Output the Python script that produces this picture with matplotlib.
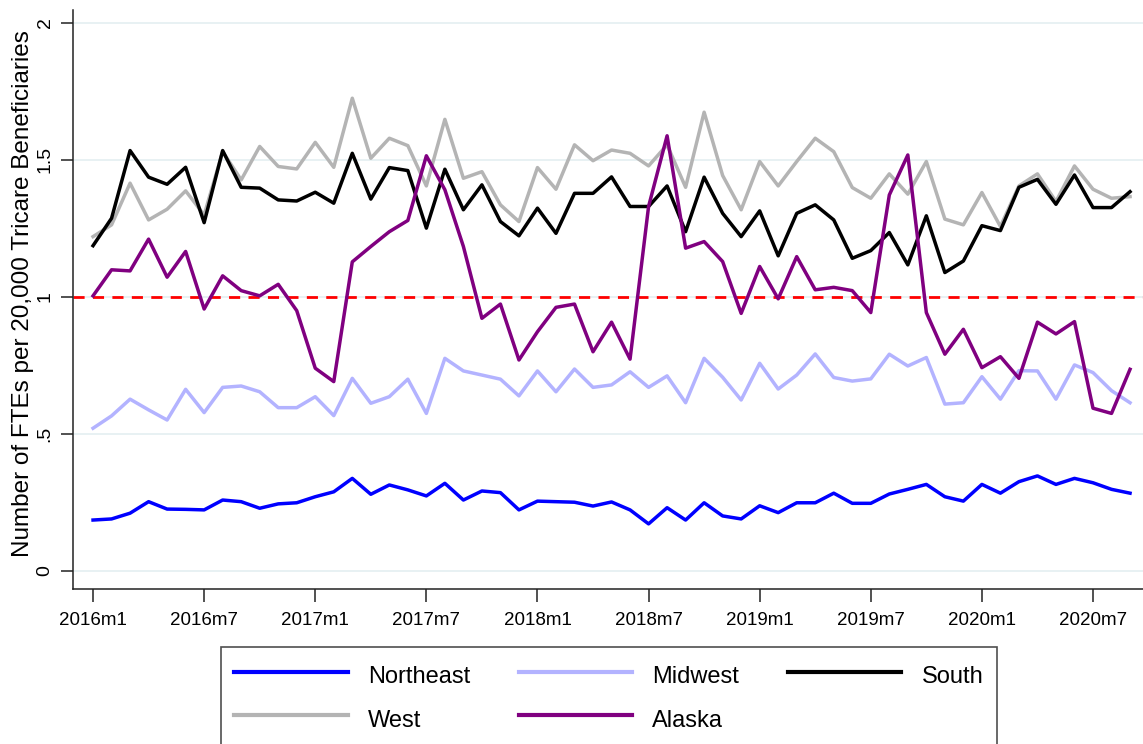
import matplotlib
matplotlib.use("Agg")
import matplotlib.pyplot as plt
import numpy as np

plt.rcParams['font.family'] = ['Liberation Sans', 'DejaVu Sans']

# Monthly series, 2016m1 .. 2020m9
months = [f"{2016 + k // 12}m{k % 12 + 1}" for k in range(57)]

northeast = [0.186, 0.190, 0.211, 0.253, 0.226, 0.225, 0.223, 0.259, 0.253, 0.229,
             0.245, 0.249, 0.271, 0.289, 0.338, 0.280, 0.314, 0.296, 0.274, 0.320,
             0.259, 0.292, 0.286, 0.223, 0.255, 0.253, 0.251, 0.237, 0.252, 0.223,
             0.172, 0.231, 0.186, 0.249, 0.201, 0.190, 0.238, 0.213, 0.249, 0.249,
             0.284, 0.247, 0.247, 0.281, 0.298, 0.316, 0.271, 0.255, 0.316, 0.284,
             0.326, 0.347, 0.316, 0.338, 0.322, 0.298, 0.284]

midwest = [0.521, 0.566, 0.627, 0.588, 0.551, 0.663, 0.578, 0.670, 0.675, 0.654,
           0.596, 0.596, 0.636, 0.567, 0.703, 0.612, 0.636, 0.700, 0.575, 0.776,
           0.730, 0.715, 0.700, 0.639, 0.730, 0.654, 0.737, 0.670, 0.679, 0.727,
           0.670, 0.712, 0.614, 0.776, 0.707, 0.624, 0.758, 0.664, 0.715, 0.792,
           0.706, 0.693, 0.701, 0.791, 0.748, 0.779, 0.609, 0.614, 0.709, 0.627,
           0.731, 0.730, 0.627, 0.752, 0.724, 0.658, 0.614]

south = [1.187, 1.287, 1.534, 1.437, 1.411, 1.473, 1.271, 1.534, 1.400, 1.397,
         1.354, 1.350, 1.382, 1.342, 1.524, 1.357, 1.472, 1.461, 1.251, 1.466,
         1.318, 1.409, 1.275, 1.223, 1.324, 1.232, 1.378, 1.378, 1.438, 1.330,
         1.330, 1.405, 1.238, 1.437, 1.305, 1.220, 1.314, 1.150, 1.305, 1.336,
         1.281, 1.141, 1.169, 1.235, 1.117, 1.296, 1.089, 1.131, 1.260, 1.242,
         1.400, 1.429, 1.338, 1.445, 1.326, 1.326, 1.384]

west = [1.220, 1.263, 1.415, 1.281, 1.320, 1.387, 1.299, 1.530, 1.427, 1.549,
        1.476, 1.467, 1.564, 1.473, 1.725, 1.506, 1.579, 1.552, 1.405, 1.648,
        1.433, 1.457, 1.336, 1.275, 1.472, 1.393, 1.555, 1.497, 1.536, 1.524,
        1.478, 1.555, 1.400, 1.674, 1.443, 1.318, 1.494, 1.405, 1.494, 1.579,
        1.530, 1.399, 1.360, 1.449, 1.375, 1.494, 1.284, 1.263, 1.381, 1.257,
        1.405, 1.449, 1.348, 1.478, 1.393, 1.360, 1.366]

alaska = [1.004, 1.099, 1.095, 1.211, 1.072, 1.166, 0.956, 1.077, 1.023, 1.004,
          1.046, 0.950, 0.740, 0.691, 1.128, 1.184, 1.238, 1.279, 1.515, 1.391,
          1.184, 0.922, 0.974, 0.770, 0.873, 0.962, 0.974, 0.800, 0.908, 0.773,
          1.330, 1.588, 1.178, 1.202, 1.129, 0.940, 1.111, 0.993, 1.147, 1.026,
          1.035, 1.023, 0.943, 1.372, 1.518, 0.943, 0.791, 0.882, 0.742, 0.782,
          0.703, 0.908, 0.865, 0.910, 0.594, 0.575, 0.736]

x_ticks = list(range(0, 57, 6))
x_ticklabels = [months[k] for k in x_ticks]
y_ticks = [0, 0.5, 1, 1.5, 2]
y_ticklabels = ["0", ".5", "1", "1.5", "2"]

fig = plt.figure(figsize=(11.43, 7.44), dpi=100)
ax = fig.add_axes([0.0639, 0.2083, 0.9361, 0.7783])

x = np.arange(len(months))

# horizontal grid
for yv in y_ticks:
    ax.axhline(yv, color="#e8f1f3", lw=1.4, zorder=0)
ax.axhline(1, color="#ff0000", lw=2.0, ls=(0, (4, 3)), zorder=1)

lw = 2.5
ax.plot(x, northeast, color="#0000ff", lw=lw, label="Northeast", zorder=3)
ax.plot(x, midwest, color="#b3b3ff", lw=lw, label="Midwest", zorder=3)
ax.plot(x, west, color="#b4b4b4", lw=lw, label="West", zorder=3)
ax.plot(x, south, color="#000000", lw=lw, label="South", zorder=4)
ax.plot(x, alaska, color="#800080", lw=lw, label="Alaska", zorder=5)

ax.set_xlim(-1.08, 56.7)
ax.set_ylim(-0.0657, 2.047)

ax.set_xticks(x_ticks)
ax.set_xticklabels(x_ticklabels, fontsize=13.5)
ax.set_yticks(y_ticks)
ax.set_yticklabels(y_ticklabels, fontsize=14, rotation=90, va="center")
ax.tick_params(axis="x", direction="out", length=9.4, width=1.1, color="#222222", pad=7)
ax.tick_params(axis="y", direction="out", length=9, width=1.1, color="#222222", pad=5)

for side in ("top", "right"):
    ax.spines[side].set_visible(False)
for side in ("left", "bottom"):
    ax.spines[side].set_linewidth(1.1)
    ax.spines[side].set_color("#222222")

ax.set_ylabel("Number of FTEs per 20,000 Tricare Beneficiaries", fontsize=17.5)
ax.yaxis.set_label_coords(-0.0365, 0.5095)

handles, labels = ax.get_legend_handles_labels()
# three columns filled column-wise: row 1 Northeast/Midwest/South, row 2 West/Alaska
order = ["Northeast", "West", "Midwest", "Alaska", "South"]
hmap = dict(zip(labels, handles))
leg = fig.legend([hmap[k] for k in order], order, loc="upper left",
                 bbox_to_anchor=(221 / 1143, 1 - 647 / 744), ncol=3,
                 fontsize=17, frameon=True, fancybox=False, edgecolor="#222222",
                 handlelength=4.8, handletextpad=0.85, columnspacing=2.07,
                 handleheight=1.6, borderpad=0.57, labelspacing=0.56,
                 borderaxespad=0)
leg.get_frame().set_linewidth(1.2)
for ln in leg.get_lines():
    ln.set_linewidth(3)

fig.savefig("out.png", dpi=100, facecolor="white")
